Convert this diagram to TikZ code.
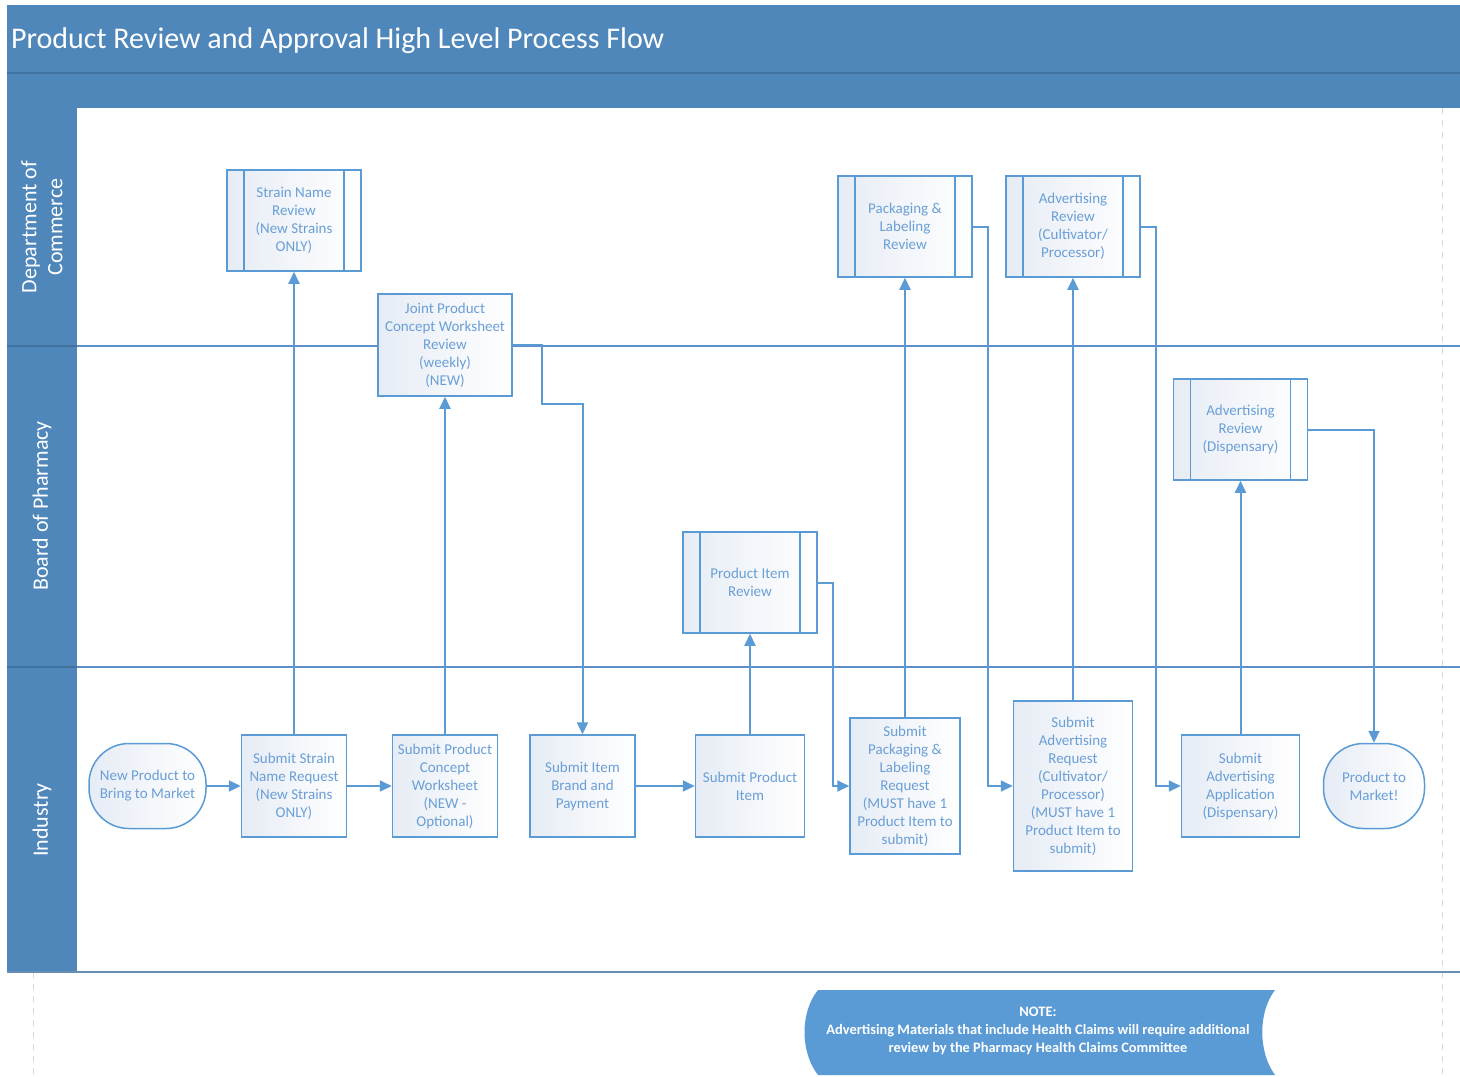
\documentclass[tikz,border=0pt]{standalone}
\usepackage{fontspec}
\setmainfont{Carlito}
\usetikzlibrary{arrows.meta,calc}
\definecolor{band}{HTML}{4F87BA}
\definecolor{bandline}{HTML}{41729F}
\definecolor{lanec}{HTML}{5B91C8}
\definecolor{boxc}{HTML}{5B9BD5}
\definecolor{boxtext}{HTML}{6A9FD6}
\definecolor{shadec}{HTML}{E6ECF5}
\definecolor{notec}{HTML}{5B9BD5}
\begin{document}
\begin{tikzpicture}[x=0.5pt,y=-0.5pt,
  box/.style={draw=boxc, line width=0.75pt, left color=shadec, right color=white,
    text=boxtext, font=\fontsize{7.5}{9}\selectfont, align=center, inner sep=1pt},
  predef/.style={box, minimum width=67pt, minimum height=50.5pt,
    path picture={
      \draw[boxc, line width=0.75pt] ([xshift=8.5pt]path picture bounding box.north west) -- ([xshift=8.5pt]path picture bounding box.south west);
      \draw[boxc, line width=0.75pt] ([xshift=-8.5pt]path picture bounding box.north east) -- ([xshift=-8.5pt]path picture bounding box.south east);}},
  term/.style={box, rounded corners=20pt, minimum height=42.5pt},
  conn/.style={draw=boxc, line width=1pt, -{Triangle[length=6pt,width=5.5pt]}},
  lanetxt/.style={text=white, rotate=90, font=\fontsize{11}{13}\selectfont, align=center},
  laneline/.style={draw=lanec, line width=0.8pt},
  guide/.style={draw=gray!30, line width=0.5pt, dashed}
]
\useasboundingbox (0,0) rectangle (1460,1076);

% guides
\draw[guide] (1442,108) -- (1442,1076);
\draw[guide] (33,972) -- (33,1076);

% header
\fill[band] (7,5) rectangle (1460,108);
\draw[bandline, line width=1pt] (7,73) -- (1460,73);
\node[anchor=west, text=white, font=\fontsize{15}{18}\selectfont] (title) at (4,41) {Product Review and Approval High Level Process Flow};

% lane column
\fill[band] (7,108) rectangle (77,972);
\draw[bandline, line width=0.6pt] (7,346) -- (77,346);
\draw[bandline, line width=0.6pt] (7,667) -- (77,667);
\node[lanetxt] (l1) at (42,227) {Department of\\Commerce};
\node[lanetxt] (l2) at (42,506) {Board of Pharmacy};
\node[lanetxt] (l3) at (42,820) {Industry};

% lane lines
\draw[laneline] (77,346) -- (1460,346);
\draw[laneline] (77,667) -- (1460,667);
\draw[draw=bandline!80, line width=1pt] (7,972) -- (1460,972);

% review boxes
\node[predef] (snr) at (294,220.5) {Strain Name\\Review\\(New Strains\\ONLY)};
\node[box, minimum width=67pt, minimum height=51pt] (jpc) at (445,345) {Joint Product\\Concept Worksheet\\Review\\(weekly)\\(NEW)};
\node[predef] (plr) at (905,226.5) {Packaging \&\\Labeling\\Review};
\node[predef] (arc) at (1073,226.5) {Advertising\\Review\\(Cultivator/\\Processor)};
\node[predef] (ard) at (1240.5,429.5) {Advertising\\Review\\(Dispensary)};
\node[predef] (pir) at (750,582.5) {Product Item\\Review};

% industry boxes
\node[term, minimum width=58.5pt] (np) at (147.5,786) {New Product to\\Bring to Market};
\node[box, minimum width=52.5pt, minimum height=51pt] (ssn) at (294,786) {Submit Strain\\Name Request\\(New Strains\\ONLY)};
\node[box, minimum width=52.5pt, minimum height=51pt] (spc) at (445,786) {Submit Product\\Concept\\Worksheet\\(NEW -\\Optional)};
\node[box, minimum width=52.5pt, minimum height=51pt] (sib) at (582.5,786) {Submit Item\\Brand and\\Payment};
\node[box, minimum width=54.5pt, minimum height=51pt] (spi) at (750,786) {Submit Product\\Item};
\node[box, minimum width=55pt, minimum height=68pt] (spl) at (905,786) {Submit\\Packaging \&\\Labeling\\Request\\(MUST have 1\\Product Item to\\submit)};
\node[box, minimum width=59.5pt, minimum height=85pt] (sar) at (1073,786) {Submit\\Advertising\\Request\\(Cultivator/\\Processor)\\(MUST have 1\\Product Item to\\submit)};
\node[box, minimum width=59pt, minimum height=51pt] (saa) at (1240.5,786) {Submit\\Advertising\\Application\\(Dispensary)};
\node[term, minimum width=50.5pt] (ptm) at (1374,786) {Product to\\Market!};

% bend points
\coordinate (j1) at (542,404);
\coordinate (p1) at (833,786);
\coordinate (q1) at (988,786);
\coordinate (r1) at (1156,786);

% connectors
\draw[conn] (np) -- (ssn);
\draw[conn] (ssn) -- (spc);
\draw[conn] (ssn) -- (snr);
\draw[conn] (spc) -- (jpc);
\draw[conn] (jpc.east) -| (j1) -| (sib.north);
\draw[conn] (sib) -- (spi);
\draw[conn] (spi) -- (pir);
\draw[conn] (pir.east) -| (p1) -- (spl.west);
\draw[conn] (spl) -- (plr);
\draw[conn] (plr.east) -| (q1) -- (sar.west);
\draw[conn] (sar) -- (arc);
\draw[conn] (arc.east) -| (r1) -- (saa.west);
\draw[conn] (saa) -- (ard);
\draw[conn] (ard.east) -| (ptm.north);

% note
\fill[notec] (818,990) -- (1275,990) .. controls (1258,1012) and (1258,1052) .. (1275,1075)
  -- (818,1075) .. controls (800,1052) and (800,1012) .. (818,990);
\node[text=white, font=\bfseries\fontsize{7.2}{8.9}\selectfont, align=center] (notetxt) at (1038,1031)
  {NOTE:\\Advertising Materials that include Health Claims will require additional\\review by the Pharmacy Health Claims Committee};
\end{tikzpicture}
\end{document}
